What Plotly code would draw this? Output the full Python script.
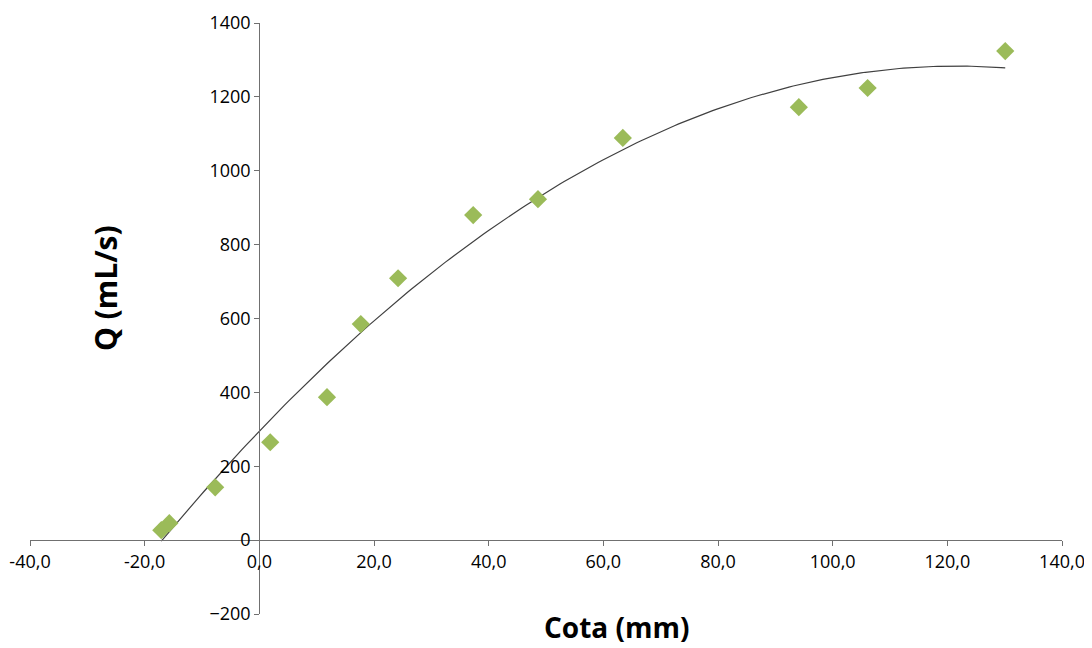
import numpy as np
import plotly.graph_objects as go

cota = [-17.1, -15.7, -7.7, 1.9, 11.8, 17.7, 24.2, 37.3, 48.6, 63.4, 94.1, 106.1, 130.1]
q = [27, 46, 143, 265, 387, 585, 709, 880, 923, 1089, 1172, 1224, 1324]

x_tick_vals = [-40, -20, 0, 20, 40, 60, 80, 100, 120, 140]
x_tick_text = ["-40,0", "-20,0", "0,0", "20,0", "40,0", "60,0", "80,0", "100,0", "120,0", "140,0"]
y_tick_vals = [-200, 0, 200, 400, 600, 800, 1000, 1200, 1400]

x_range = [-40, 140]
y_range = [-200, 1400]

coef = np.polyfit(cota, q, 2)
xs = np.linspace(min(cota), max(cota), 200)
ys = np.polyval(coef, xs)

fig = go.Figure()
fig.add_trace(go.Scatter(x=xs, y=ys, mode="lines",
                         line=dict(color="#404040", width=1.2), hoverinfo="skip"))
fig.add_trace(go.Scatter(x=cota, y=q, mode="markers",
                         marker=dict(symbol="diamond", size=14, color="#9BBB59",
                                     line=dict(width=0))))

font = dict(family="Open Sans, sans-serif", size=18, color="#000000")
xpos = (0 - y_range[0]) / (y_range[1] - y_range[0])
ypos = (0 - x_range[0]) / (x_range[1] - x_range[0])

fig.update_layout(
    width=1084, height=640,
    margin=dict(l=22, r=30, t=15, b=34, autoexpand=False),
    plot_bgcolor="white", paper_bgcolor="white",
    showlegend=False,
    font=font,
    xaxis=dict(range=x_range, tickvals=x_tick_vals, ticktext=x_tick_text,
               showgrid=False, zeroline=False, showline=True, linecolor="#707070",
               linewidth=1.3, ticks="outside", ticklen=5, tickcolor="#707070",
               anchor="free", position=xpos, tickfont=font, automargin=False),
    yaxis=dict(range=y_range, tickvals=y_tick_vals,
               showgrid=False, zeroline=False, showline=True, linecolor="#707070",
               linewidth=1.3, ticks="outside", ticklen=5, tickcolor="#707070",
               anchor="free", position=ypos, tickfont=font, automargin=False),
    annotations=[
        dict(text="<b>Cota (mm)</b>", xref="paper", yref="paper", x=0.568, y=-0.0225,
             xanchor="center", yanchor="middle", showarrow=False,
             font=dict(family="Open Sans, sans-serif", size=28, color="#000000")),
        dict(text="<b>Q (mL/s)</b>", xref="paper", yref="paper", x=0.073, y=0.552,
             xanchor="center", yanchor="middle", showarrow=False, textangle=-90,
             font=dict(family="Open Sans, sans-serif", size=30, color="#000000")),
    ],
)

fig.write_html("out.html")
